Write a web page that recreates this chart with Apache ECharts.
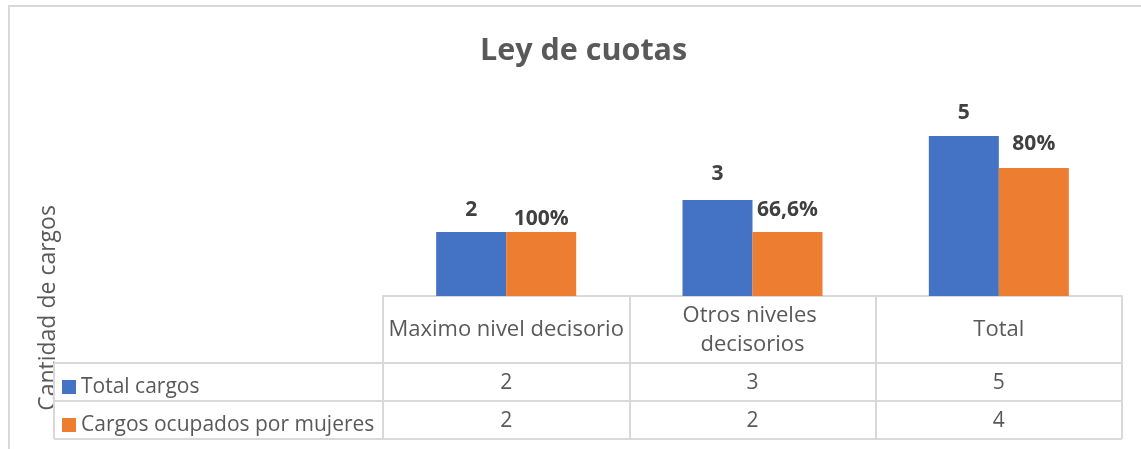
<!DOCTYPE html>
<html>
<head>
<meta charset="utf-8">
<script src="https://cdn.jsdelivr.net/npm/echarts@6/dist/echarts.min.js"></script>
<style>
  html, body { margin: 0; padding: 0; background: #fff; }
  #chart { width: 1141px; height: 449px; }
</style>
</head>
<body>
<div id="chart"></div>
<script>
// data
var categories = ['Maximo nivel decisorio', 'Otros niveles decisorios', 'Total'];
var seriesNames = ['Total cargos', 'Cargos ocupados por mujeres'];
var totalCargos = [2, 3, 5];
var cargosMujeres = [2, 2, 4];
var pctMujeres = ['100%', '66,6%', '80%'];

// label lifts above bar tops (manually placed in the original)
var liftTotal = [11, 15, 12];
var liftMujeres = [2, 11, 13];

var dom = document.getElementById('chart');
var myChart = echarts.init(dom, null, { renderer: 'canvas' });

var font = '"Open Sans", "Noto Sans", sans-serif';
var lineColor = '#d9d9d9';
var textColor = '#595959';

// table geometry
var gridLeft = 383, gridRight = 1122, gridBottomY = 296;
var rowLines = [363, 401, 439];
var legendLeftX = 54;

function hLine(x1, x2, y) {
  return { type: 'line', silent: true, shape: { x1: x1, y1: y, x2: x2, y2: y },
    style: { stroke: lineColor, lineWidth: 2 } };
}

var graphics = [
  { type: 'rect', silent: true, shape: { x: 9, y: 6, width: 1300, height: 600 },
    style: { fill: 'none', stroke: lineColor, lineWidth: 2 } },
  { type: 'text', silent: true, x: 48, y: 308, rotation: Math.PI / 2,
    style: { text: 'Cantidad de cargos', font: '23px ' + font, fill: textColor,
      align: 'center', verticalAlign: 'middle' } },
  { type: 'line', silent: true, shape: { x1: legendLeftX, y1: rowLines[0], x2: legendLeftX, y2: rowLines[2] },
    style: { stroke: lineColor, lineWidth: 2 } }
];
rowLines.forEach(function (y) { graphics.push(hLine(legendLeftX, gridRight, y)); });

function labelled(values, texts, lifts) {
  return values.map(function (v, i) {
    return { value: v, label: { distance: lifts[i], formatter: texts[i] } };
  });
}

var labelStyle = { show: true, position: 'top', color: '#404040', fontWeight: 'bold',
  fontSize: 21, fontFamily: font };

var option = {
  animation: false,
  title: {
    text: 'Ley de cuotas', left: 475, top: 31,
    textStyle: { fontFamily: font, fontWeight: 'bold', fontSize: 30.5, color: textColor }
  },
  legend: {
    data: seriesNames, orient: 'vertical', left: 57, top: 370,
    itemWidth: 14, itemHeight: 14, itemGap: 14, icon: 'rect', selectedMode: false,
    textStyle: { fontFamily: font, fontSize: 21, color: textColor, lineHeight: 24 }
  },
  grid: { left: gridLeft, right: 1141 - gridRight, top: 72, bottom: 449 - gridBottomY },
  xAxis: [
    {
      type: 'category', data: categories,
      axisLine: { show: true, lineStyle: { color: lineColor, width: 2 } },
      axisTick: { show: true, interval: 0, length: 143, lineStyle: { color: lineColor, width: 2 } },
      axisLabel: { interval: 0, margin: 34, verticalAlign: 'middle', width: 239, overflow: 'break',
        lineHeight: 29, fontFamily: font, fontSize: 22, color: textColor }
    },
    {
      type: 'category', data: totalCargos.map(String), position: 'bottom',
      axisLine: { show: false }, axisTick: { show: false },
      axisLabel: { interval: 0, margin: 87, verticalAlign: 'middle',
        fontFamily: font, fontSize: 21, color: textColor }
    },
    {
      type: 'category', data: cargosMujeres.map(String), position: 'bottom',
      axisLine: { show: false }, axisTick: { show: false },
      axisLabel: { interval: 0, margin: 125, verticalAlign: 'middle',
        fontFamily: font, fontSize: 21, color: textColor }
    }
  ],
  yAxis: {
    type: 'value', min: 0, max: 7,
    axisLine: { show: false }, axisTick: { show: false },
    axisLabel: { show: false }, splitLine: { show: false }
  },
  series: [
    {
      name: seriesNames[0], type: 'bar', barWidth: 70, barGap: 0,
      itemStyle: { color: '#4472C4' },
      label: labelStyle,
      data: labelled(totalCargos, totalCargos.map(String), liftTotal)
    },
    {
      name: seriesNames[1], type: 'bar', barWidth: 70, barGap: 0,
      itemStyle: { color: '#ED7D31' },
      label: labelStyle,
      data: labelled(cargosMujeres, pctMujeres, liftMujeres)
    }
  ],
  graphic: graphics
};

myChart.setOption(option);
window.addEventListener('resize', myChart.resize);
</script>
</body>
</html>
